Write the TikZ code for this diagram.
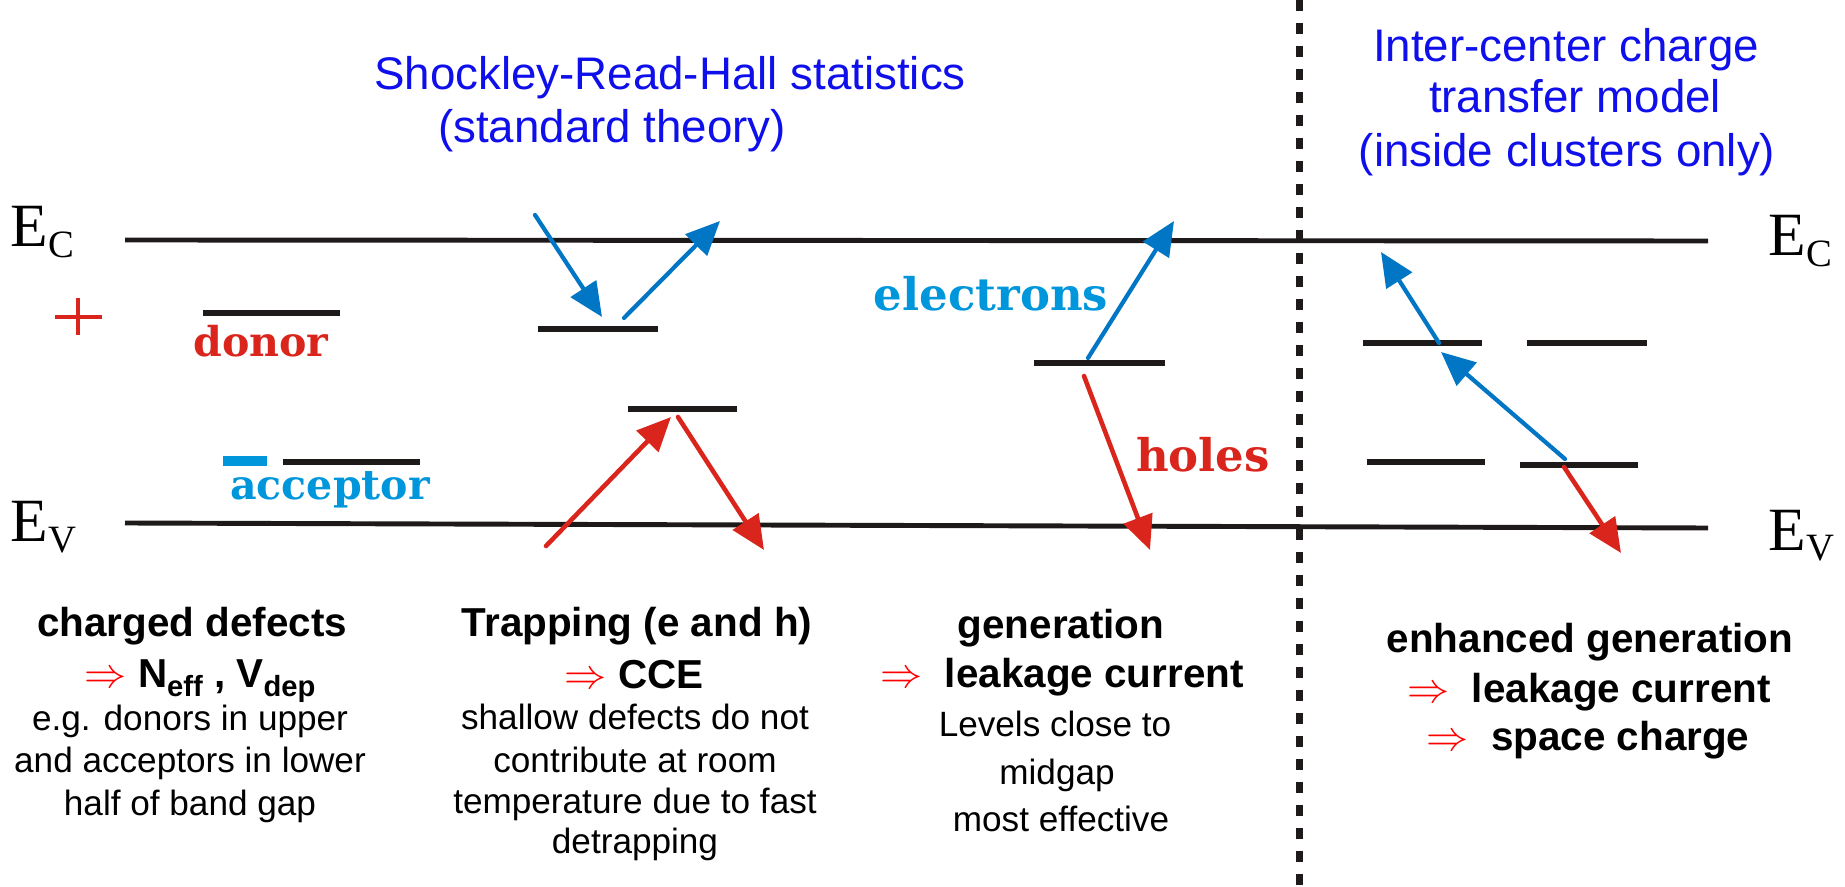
\documentclass[tikz,border=0pt]{standalone}
\usepackage{fontspec}
\setmainfont{Liberation Sans}
\newfontfamily\bandfont{Liberation Serif}
\newfontfamily\levfont{DejaVu Serif}
\usetikzlibrary{arrows.meta}

\newcommand{\bandlab}[1]{{\bandfont\fontsize{17.5}{17.5}\selectfont E}\raisebox{-3.1pt}{\bandfont\fontsize{11}{11}\selectfont #1}}
\newcommand{\lowidx}[1]{\raisebox{-2.8pt}{\fontsize{8.3}{8.3}\selectfont #1}}
\newcommand{\thento}{\textcolor{implc}{$\Rightarrow$}}

\begin{document}
\begin{tikzpicture}[x=1cm,y=1cm,line cap=butt,line join=round]
\definecolor{linec}{RGB}{30,26,26}
\definecolor{eblue}{RGB}{0,118,196}
\definecolor{ecyan}{RGB}{0,150,219}
\definecolor{hred}{RGB}{218,37,29}
\definecolor{titlec}{RGB}{15,15,235}
\definecolor{implc}{RGB}{255,0,0}

\tikzset{
band/.style={draw=linec, line width=1.4pt},
level/.style={draw=linec, line width=1.8pt},
eflow/.style={draw=eblue, line width=1.2pt, line cap=round, -{Triangle[length=0.34cm,width=0.30cm]}},
hflow/.style={draw=hred, line width=1.3pt, line cap=round, -{Triangle[length=0.34cm,width=0.30cm]}},
title/.style={text=titlec, font=\fontsize{13}{13}\selectfont, inner sep=0pt, anchor=base},
head/.style={font=\fontsize{11.5}{11.5}\selectfont\bfseries, inner sep=0pt, anchor=base},
note/.style={font=\fontsize{10}{10}\selectfont, inner sep=0pt, anchor=base},
levlab/.style={font=\levfont\bfseries\fontsize{11.7}{11.7}\selectfont, inner sep=0pt, anchor=base},
carrier/.style={font=\levfont\bfseries\fontsize{12.8}{12.8}\selectfont, inner sep=0pt, anchor=base},
edge/.style={inner sep=0pt, anchor=base west}
}

\useasboundingbox (0,0) rectangle (18.45,8.86);

% band edges
\draw[band] (1.25,6.46) -- (17.08,6.45);
\draw[band] (1.25,3.63) -- (17.08,3.58);
\node[edge] (ecl) at (0.10,6.39) {\bandlab{C}};
\node[edge] (evl) at (0.10,3.44) {\bandlab{V}};
\node[edge] (ecr) at (17.68,6.30) {\bandlab{C}};
\node[edge] (evr) at (17.68,3.36) {\bandlab{V}};

% cluster separator
\draw[linec, line width=2pt, dash pattern=on 0.11cm off 0.12cm] (12.99,8.86) -- (12.99,0);

% titles
\node[title] (srh1) at (6.70,7.96) {Shockley-Read-Hall statistics};
\node[title] (srh2) at (6.12,7.43) {(standard theory)};
\node[title] (ict1) at (15.66,8.24) {Inter-center charge};
\node[title] (ict2) at (15.75,7.73) {transfer model};
\node[title] (ict3) at (15.67,7.19) {(inside clusters only)};

% charged defects
\draw[hred, line width=1.4pt] (0.55,5.69) -- (1.02,5.69);
\draw[hred, line width=1.4pt] (0.78,5.88) -- (0.78,5.51);
\draw[level] (2.03,5.73) -- (3.40,5.73);
\node[levlab, text=hred] (don) at (2.61,5.29) {donor};
\draw[ecyan, line width=3.1pt] (2.23,4.25) -- (2.67,4.25);
\draw[level] (2.83,4.24) -- (4.20,4.24);
\node[levlab, text=ecyan] (acc) at (3.30,3.86) {acceptor};

% trapping
\draw[level] (5.38,5.57) -- (6.58,5.57);
\draw[level] (6.28,4.77) -- (7.37,4.77);
\coordinate (b1s) at (5.35,6.71); \coordinate (b1e) at (6.02,5.69);
\coordinate (b2s) at (6.24,5.68); \coordinate (b2e) at (7.20,6.65);
\coordinate (r1s) at (5.46,3.40); \coordinate (r1e) at (6.71,4.69);
\coordinate (r2s) at (6.78,4.69); \coordinate (r2e) at (7.64,3.36);
\draw[eflow] (b1s) -- (b1e);
\draw[eflow] (b2s) -- (b2e);
\draw[hflow] (r1s) -- (r1e);
\draw[hflow] (r2s) -- (r2e);

% generation
\draw[level] (10.34,5.23) -- (11.65,5.23);
\coordinate (b3s) at (10.88,5.28); \coordinate (b3e) at (11.74,6.65);
\coordinate (r3s) at (10.84,5.10); \coordinate (r3e) at (11.50,3.36);
\draw[eflow] (b3s) -- (b3e);
\draw[hflow] (r3s) -- (r3e);
\node[carrier, text=ecyan] (ele) at (9.91,5.75) {electrons};
\node[carrier, text=hred] (hol) at (12.03,4.14) {holes};

% cluster levels
\draw[level] (13.63,5.43) -- (14.82,5.43);
\draw[level] (15.27,5.43) -- (16.47,5.43);
\draw[level] (13.67,4.24) -- (14.85,4.24);
\draw[level] (15.20,4.21) -- (16.38,4.21);
\coordinate (b4s) at (15.65,4.27); \coordinate (b4e) at (14.41,5.34);
\coordinate (b5s) at (14.39,5.43); \coordinate (b5e) at (13.81,6.34);
\coordinate (r4s) at (15.64,4.19); \coordinate (r4e) at (16.21,3.33);
\draw[eflow] (b4s) -- (b4e);
\draw[eflow] (b5s) -- (b5e);
\draw[hflow] (r4s) -- (r4e);

% consequences
\node[head] (cd1) at (1.92,2.49) {charged defects};
\node[head] (cd2) at (2.00,1.99) {\thento{} N\lowidx{eff} , V\lowidx{dep}};
\node[note] (cd3) at (1.90,1.56) {e.g. donors in upper};
\node[note] (cd4) at (1.90,1.14) {and acceptors in lower};
\node[note] (cd5) at (1.90,0.71) {half of band gap};

\node[head] (tr1) at (6.37,2.49) {Trapping (e and h)};
\node[head] (tr2) at (6.34,1.98) {\thento{} CCE};
\node[note] (tr3) at (6.35,1.57) {shallow defects do not};
\node[note] (tr4) at (6.35,1.14) {contribute at room};
\node[note] (tr5) at (6.35,0.73) {temperature due to fast};
\node[note] (tr6) at (6.35,0.33) {detrapping};

\node[head] (gn1) at (10.61,2.48) {generation};
\node[head] (gn2) at (10.62,1.99) {\thento{}~~leakage current};
\node[note] (gn3) at (10.55,1.50) {Levels close to};
\node[note] (gn4) at (10.57,1.02) {midgap};
\node[note] (gn5) at (10.61,0.55) {most effective};

\node[head] (en1) at (15.90,2.34) {enhanced generation};
\node[head] (en2) at (15.89,1.84) {\thento{}~~leakage current};
\node[head] (en3) at (15.88,1.36) {\thento{}~~space charge};
\end{tikzpicture}
\end{document}
